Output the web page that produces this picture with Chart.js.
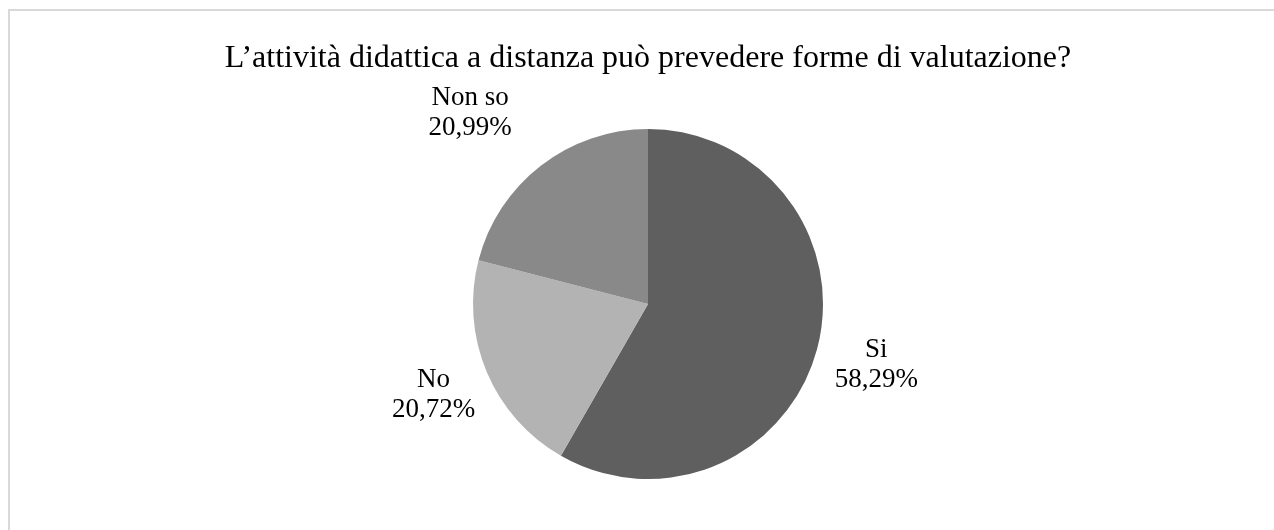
<!DOCTYPE html>
<html>
<head>
<meta charset="utf-8">
<script src="https://cdn.jsdelivr.net/npm/chart.js@4"></script>
<style>
  html, body { margin: 0; padding: 0; background: #fff; overflow: hidden; }
  .frame {
    position: absolute; left: 8px; top: 9px; width: 1300px; height: 560px;
    border-top: 2px solid #d9d9d9; border-left: 2px solid #d9d9d9;
  }
  .chart-container { position: absolute; left: 10px; top: 11px; width: 1264px; height: 519px; }
</style>
</head>
<body>
<div class="frame"></div>
<div class="chart-container">
  <canvas id="pie"></canvas>
</div>
<script>
const TITLE = 'L\u2019attività didattica a distanza può prevedere forme di valutazione?';
const categories = ['Si', 'No', 'Non so'];
const percentages = [58.29, 20.72, 20.99];
const sliceColors = ['#5f5f5f', '#b3b3b3', '#898989'];

const FONT = '"Liberation Serif", "Times New Roman", serif';

// Category name and percentage drawn outside each slice
const outsideLabels = {
  id: 'outsideLabels',
  afterDatasetsDraw(chart, args, opts) {
    const ctx = chart.ctx;
    const meta = chart.getDatasetMeta(0);
    ctx.save();
    ctx.font = `${opts.size}px ${FONT}`;
    ctx.fillStyle = '#000';
    ctx.textAlign = 'center';
    ctx.textBaseline = 'middle';
    meta.data.forEach((arc, i) => {
      const mid = (arc.startAngle + arc.endAngle) / 2 + opts.angleShift[i] * Math.PI / 180;
      const d = arc.outerRadius * opts.distance[i];
      const x = arc.x + Math.cos(mid) * d;
      const y = arc.y + Math.sin(mid) * d;
      const value = chart.data.datasets[0].data[i].toFixed(2).replace('.', ',') + '%';
      ctx.fillText(chart.data.labels[i], x, y - opts.lineHeight / 2);
      ctx.fillText(value, x, y + opts.lineHeight / 2);
    });
    ctx.restore();
  }
};

new Chart(document.getElementById('pie'), {
  type: 'pie',
  data: {
    labels: categories,
    datasets: [{
      data: percentages,
      backgroundColor: sliceColors,
      borderWidth: 0,
      hoverOffset: 0
    }]
  },
  plugins: [outsideLabels],
  options: {
    animation: false,
    responsive: true,
    maintainAspectRatio: false,
    layout: { padding: { left: 12, right: 0, top: 0, bottom: 51 } },
    plugins: {
      legend: { display: false },
      tooltip: { enabled: false },
      title: {
        display: true,
        text: TITLE,
        color: '#000',
        font: { family: FONT, size: 32, weight: 'normal', lineHeight: 1.2 },
        padding: { top: 28, bottom: 51.6 }
      },
      outsideLabels: {
        size: 27,
        lineHeight: 30,
        distance: [1.35, 1.33, 1.49],
        angleShift: [0, 0, -5.2]
      }
    }
  }
});
</script>
</body>
</html>
